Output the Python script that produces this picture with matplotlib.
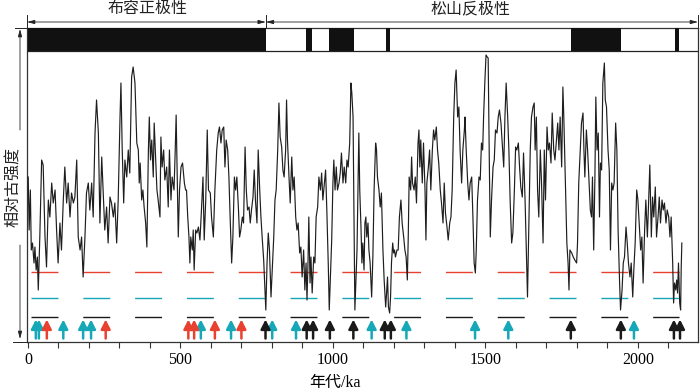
import matplotlib
matplotlib.use("Agg")
import matplotlib.pyplot as plt
from matplotlib.ticker import MultipleLocator

plt.rcParams['font.family'] = ['Liberation Serif', 'Noto Sans CJK SC', 'DejaVu Sans']

# ---------------- data ----------------
age_ka = [1,4,8,11,15,20,23,27,31,34,39,45,50,56,61,67,72,78,83,89,94,99,105,110,116,121,127,132,138,143,
          149,154,160,165,171,176,181,187,192,198,203,209,214,220,225,231,236,242,247,252,258,263,269,274,280,
          285,291,296,302,305,309,314,318,324,329,334,340,345,351,
          354,357,362,365,368,373,377,381,386,390,395,398,402,406,411,414,419,423,427,433,436,440,445,449,455,
          460,464,469,473,479,483,486,490,493,497,502,507,513,517,520,524,528,531,534,539,542,545,550,554,559,
          564,569,574,578,583,588,592,598,602,608,613,619,624,628,633,637,642,646,650,655,659,663,668,672,677,
          681,685,690,694,698,703,707,
          712,716,720,725,729,733,738,742,746,751,755,760,764,768,773,777,780,784,788,792,797,801,806,810,814,
          819,823,827,832,836,840,845,848,851,856,860,865,869,873,878,882,886,891,895,899,904,908,912,915,918,
          921,925,928,932,937,941,945,950,954,959,963,967,972,976,980,985,988,991,996,1000,1003,1007,1011,1015,
          1020,1024,1028,1033,1037,1042,1046,1050,1055,1059,1062,1066,1069,1072,
          1079,1083,1085,1088,1092,1095,1098,1102,1105,1108,1111,1115,1118,1122,1127,1131,1135,1140,1143,1146,
          1151,1155,1159,1164,1168,1173,1176,1179,1182,1186,1189,1192,1196,1199,1202,1205,1210,1214,1218,1223,
          1227,1232,1236,1240,1244,1247,1250,1255,1258,1261,1266,1270,1274,1279,1282,1285,1288,1293,1297,1302,
          1305,1308,1313,1317,1321,1326,1330,1334,1339,1343,1347,1352,1356,1361,1365,1369,1374,1378,1383,1387,
          1391,1396,1400,1404,1409,1413,1417,1422,1426,1431,
          1433,1437,1442,1446,1450,1455,1459,1463,1467,1470,1474,1479,1483,1487,1491,1494,1498,1502,1506,1509,
          1513,1516,1520,1525,1529,1533,1538,1542,1546,1551,1555,1560,1564,1568,1573,1577,1581,1586,1590,1595,
          1599,1603,1608,1612,1616,1621,1625,1630,1634,1638,1643,1647,1651,1656,1660,1663,1667,1671,1675,1680,
          1684,1689,1693,1697,1702,1706,1710,1715,1719,1724,1728,1732,1737,1741,1745,1750,1754,1757,1761,1764,
          1767,1771,1774,1777,1783,1788,1793,
          1799,1802,1806,1811,1815,1820,1823,1826,1831,1835,1839,1844,1848,1851,1855,1859,1862,1866,1870,1874,
          1877,1881,1885,1890,1893,1897,1902,1906,1910,1914,1918,1922,1927,1931,1935,1940,1943,1948,1952,1956,
          1961,1965,1969,1974,1978,1983,1987,1991,1996,2000,2004,2009,2013,2017,2022,2026,2031,2035,2039,2044,
          2048,2052,2057,2061,2066,2070,2074,2079,2083,2087,2092,2096,2101,2105,2109,2114,2117,2120,2124,2127,
          2130,2133,2137,2140,2142,2144]

rpi = [1.65,1.12,1.52,0.92,0.99,0.79,0.95,0.72,0.85,0.52,1.05,1.82,1.77,1.05,0.75,1.42,1.25,1.59,1.39,1.52,
       1.12,0.79,1.19,0.92,1.42,1.75,1.39,1.59,1.25,1.49,1.39,1.45,1.82,1.05,0.92,1.05,0.65,1.05,1.49,1.59,
       1.32,1.59,1.25,2.09,2.42,2.09,1.19,1.85,1.49,1.12,1.35,0.99,1.45,1.39,1.25,1.39,0.99,1.42,2.25,2.59,
       1.95,1.39,1.82,1.65,1.92,1.69,2.65,2.75,2.59,
       2.29,1.99,1.92,1.59,1.79,1.42,1.52,1.35,1.19,0.95,1.92,2.25,1.82,2.02,1.65,2.19,1.82,1.52,1.42,1.25,
       2.05,1.75,1.92,1.62,1.75,1.35,1.92,1.42,1.65,1.52,1.92,2.27,1.59,1.05,1.52,1.75,1.79,1.59,1.52,1.52,
       1.25,1.05,0.79,1.05,0.92,1.12,0.72,1.12,1.09,1.15,1.02,1.32,1.65,1.02,1.42,2.12,1.52,1.49,1.25,1.05,
       1.52,1.92,2.09,2.15,1.99,2.12,2.15,1.75,2.02,1.92,1.65,1.25,0.79,1.05,1.65,1.52,1.65,1.35,1.05,1.12,
       1.25,1.19,
       1.95,1.52,1.32,1.35,1.19,1.32,1.45,1.72,1.42,1.19,1.92,1.52,1.25,1.05,0.82,0.52,0.32,0.79,1.09,0.92,
       0.45,0.72,1.05,1.42,1.52,1.92,2.39,2.05,1.95,1.72,1.65,1.92,2.42,2.02,1.65,1.39,1.85,1.52,1.65,1.25,
       1.12,1.19,0.89,0.95,0.65,0.92,0.52,0.79,0.42,0.75,1.25,0.59,0.85,0.49,0.85,0.79,1.25,1.35,1.65,1.52,
       1.69,1.42,1.59,1.72,1.32,0.75,0.32,0.59,1.02,1.59,1.82,1.52,1.75,1.52,1.59,1.69,1.89,1.59,1.75,1.59,
       1.82,1.75,1.99,2.59,2.49,2.25,1.25,0.32,
       0.92,1.75,2.09,1.52,1.15,0.79,0.99,0.72,1.19,1.25,1.05,1.19,0.92,0.79,0.45,0.85,1.52,1.99,1.92,1.65,
       1.52,1.35,1.49,0.92,0.62,0.35,0.49,0.65,0.35,0.29,0.45,0.79,0.99,0.89,0.92,0.85,0.92,0.92,1.25,1.42,
       1.19,1.05,0.92,0.85,0.62,1.05,1.65,1.52,1.85,1.59,1.52,1.65,1.39,1.99,2.12,1.75,2.02,1.59,1.99,1.52,
       1.02,1.59,1.75,1.92,1.52,1.92,2.12,2.02,2.15,1.92,1.79,1.52,1.39,1.19,1.59,1.29,1.15,1.02,1.19,1.25,
       1.52,2.25,2.59,2.72,2.25,2.35,1.92,1.59,1.92,2.12,
       2.25,1.92,1.59,1.42,1.59,1.65,1.25,0.79,0.69,0.92,1.42,1.65,1.62,1.99,1.92,2.25,2.59,2.87,2.85,2.84,
       1.75,1.05,1.42,1.75,1.82,2.12,2.09,2.25,2.32,2.19,1.99,1.75,2.25,2.59,2.25,1.92,1.42,0.99,1.09,1.52,
       1.95,1.92,1.99,1.75,1.55,1.45,1.89,1.42,0.92,0.45,1.25,1.92,2.25,2.35,2.39,1.92,2.25,1.52,1.25,1.92,
       1.59,0.99,1.92,1.42,2.15,1.92,1.99,1.79,2.29,1.92,1.82,1.99,2.19,1.92,2.25,1.75,2.55,2.25,1.75,1.42,
       0.99,0.79,0.52,0.92,0.89,0.85,0.82,
       0.79,0.99,1.59,1.92,2.19,2.29,1.92,1.65,2.12,1.92,1.65,1.32,1.25,1.65,0.92,1.65,2.45,1.92,2.09,1.25,
       1.79,1.72,2.59,2.79,2.42,2.35,1.92,1.72,0.92,1.59,1.52,1.59,2.19,1.92,1.12,0.59,0.32,0.52,0.79,0.85,
       1.15,0.99,0.79,0.65,0.79,0.45,0.75,0.99,1.52,1.42,1.19,0.92,1.05,0.59,1.12,1.42,1.05,1.39,1.77,1.05,
       1.45,1.25,1.55,1.05,1.25,1.45,1.19,1.42,1.32,1.39,1.19,1.32,1.25,1.05,1.25,0.79,0.39,0.59,0.52,0.62,
       0.49,0.79,0.39,0.32,0.75,0.99]

# threshold levels (red, cyan, black) and their extent
thresholds = [0.70, 0.44, 0.25]
threshold_colors = ['#e8412f', '#17a8b8', '#1a1a1a']
threshold_span = (10, 2136)

# arrows marking low-intensity events
arrows_cyan = [26, 36, 116, 181, 207, 567, 666, 801, 879, 1127, 1241, 1466, 1575, 1987]
arrows_red = [62, 255, 526, 545, 613, 700]
arrows_black = [779, 914, 935, 990, 1067, 1170, 1190, 1780, 1944, 2118, 2138]

# normal polarity (black) intervals, ka
normal_start = [0, 911, 987, 1174, 1779, 2121]
normal_end = [780, 930, 1069, 1187, 1943, 2134]
bm_boundary = 780
chron_labels = ['布容正极性', '松山反极性']

xticks_major = [0, 500, 1000, 1500, 2000]
xlim = (-3, 2197)
ylim = (0, 3.14)
bar_bottom = 2.915

# ---------------- figure ----------------
W, H = 700, 392
fig = plt.figure(figsize=(W / 100, H / 100), dpi=100)
L, R, T, B = 27, 698, 28, 342
ax = fig.add_axes([L / W, 1 - B / H, (R - L) / W, (B - T) / H])
ax.set_xlim(*xlim)
ax.set_ylim(*ylim)

# paleointensity curve
ax.plot(age_ka, rpi, color='#1e1e1e', lw=0.85, zorder=3)

# dashed threshold lines (dash pattern given in points, lw = 1 so no scaling)
for lev, col in zip(thresholds, threshold_colors):
    ax.hlines(lev, threshold_span[0], threshold_span[1], colors=col, lw=1.0,
              linestyles=(0, (19.4, 17.9)), zorder=2)

# arrows
def draw_arrows(ages, col):
    for a in ages:
        ax.annotate('', xy=(a, 0.225), xytext=(a, 0.035),
                    arrowprops=dict(arrowstyle='-|>,head_length=0.55,head_width=0.28',
                                    lw=1.8, color=col, shrinkA=0, shrinkB=0), zorder=4)

draw_arrows(arrows_cyan, threshold_colors[1])
draw_arrows(arrows_red, threshold_colors[0])
draw_arrows(arrows_black, threshold_colors[2])

# polarity bar
ax.broken_barh([(s, e - s) for s, e in zip(normal_start, normal_end)],
               (bar_bottom, ylim[1] - bar_bottom), facecolors='#111111', edgecolor='none', zorder=5)
ax.axhline(bar_bottom, color='#222222', lw=0.9, zorder=6)

# axes styling
for sp in ax.spines.values():
    sp.set_color('#333333')
    sp.set_linewidth(0.9)
ax.set_yticks([])
ax.set_xticks(xticks_major)
ax.xaxis.set_minor_locator(MultipleLocator(100))
ax.tick_params(axis='x', which='both', direction='out', length=4, width=0.8, color='#333333',
               labelsize=11.5, pad=3)
ax.set_xlabel('年代/ka', fontsize=11.5)
ax.xaxis.set_label_coords((335 - L) / (R - L), -(375 - B) / (B - T))

# chron annotations above the axes
trans = ax.get_xaxis_transform()
ytop = 1 + 6 / (B - T)
for x0, x1 in [(xlim[0], bm_boundary), (bm_boundary, xlim[1])]:
    ax.annotate('', xy=(x1, ytop), xytext=(x0, ytop), xycoords=trans, textcoords=trans,
                arrowprops=dict(arrowstyle='<|-|>,head_length=0.45,head_width=0.12', lw=0.6,
                                color='#222222', shrinkA=0, shrinkB=0), annotation_clip=False)
for xv in [xlim[0], bm_boundary, xlim[1]]:
    ax.plot([xv, xv], [1.0, 1 + 13 / (B - T)], transform=trans, color='#222222', lw=0.7,
            clip_on=False)
ax.text((xlim[0] + bm_boundary) / 2 + 5, 1 + 19 / (B - T), chron_labels[0], transform=trans,
        ha='center', va='center', fontsize=11.5, color='#222222')
ax.text(1452, 1 + 19 / (B - T), chron_labels[1], transform=trans,
        ha='center', va='center', fontsize=11.5, color='#222222')

# y-axis label with double arrow (figure pixels)
xa = 20
fig.add_artist(plt.Line2D([15, L], [H - T, H - T], transform=None, color='#222222', lw=0.7))
fig.add_artist(plt.Line2D([13, L], [H - B, H - B], transform=None, color='#222222', lw=0.7))
ax.annotate('', xy=(xa, H - T - 1), xytext=(xa, H - 130), xycoords='figure pixels',
            textcoords='figure pixels',
            arrowprops=dict(arrowstyle='-|>,head_length=0.45,head_width=0.12', lw=0.6,
                            color='#222222', shrinkA=0, shrinkB=0), annotation_clip=False)
ax.annotate('', xy=(xa, H - B + 3), xytext=(xa, H - 245), xycoords='figure pixels',
            textcoords='figure pixels',
            arrowprops=dict(arrowstyle='-|>,head_length=0.45,head_width=0.12', lw=0.6,
                            color='#222222', shrinkA=0, shrinkB=0), annotation_clip=False)
fig.text(14 / W, 1 - 187 / H, '相对古强度', rotation=90, ha='center', va='center',
         fontsize=11.5, color='#222222')

fig.savefig('out.png', dpi=100)
